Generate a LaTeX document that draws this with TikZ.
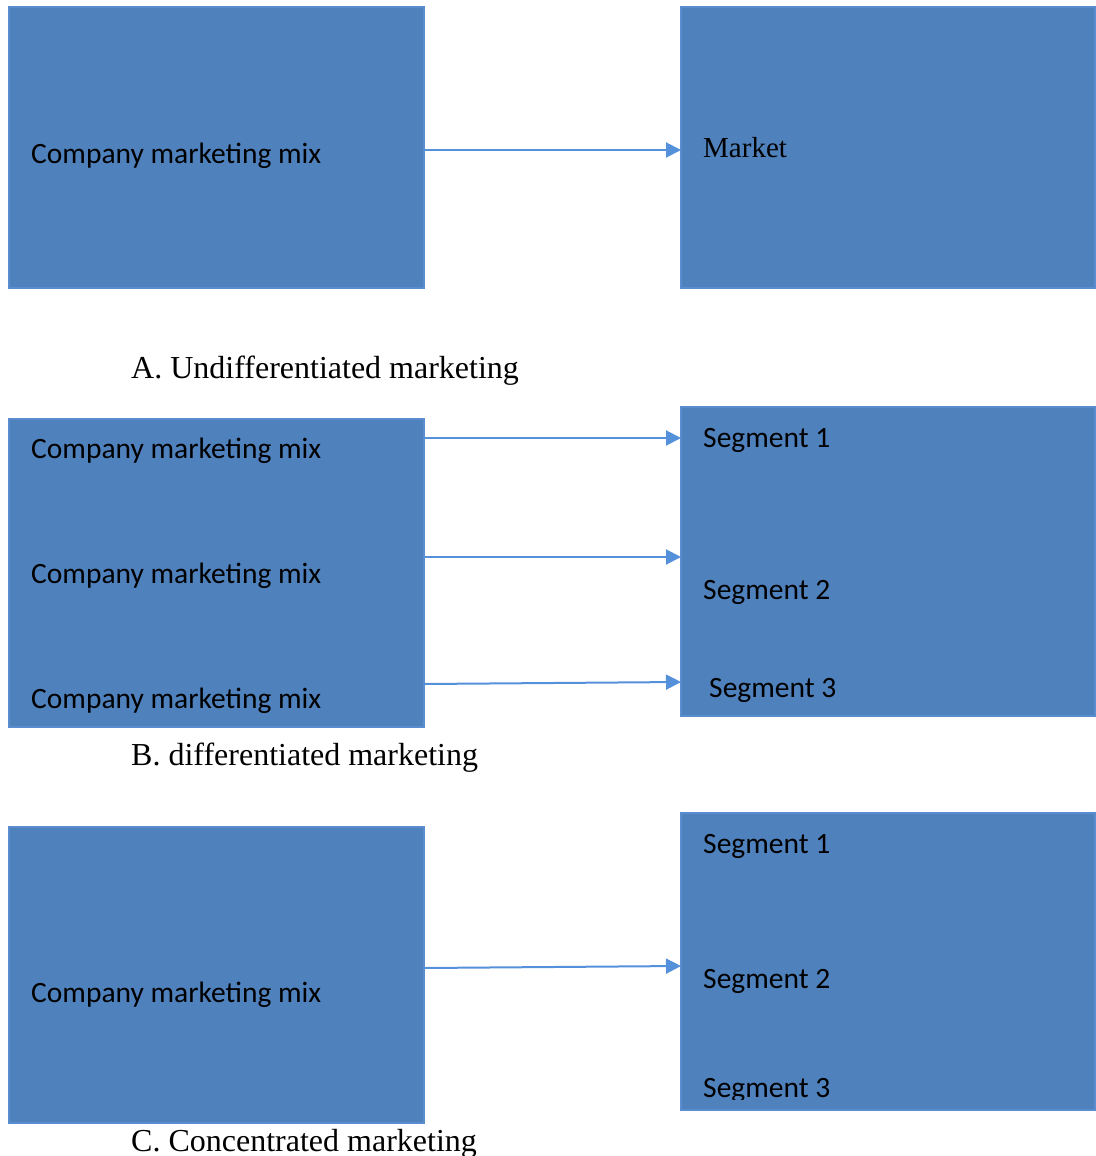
\documentclass[tikz,border=0pt]{standalone}
\usepackage{fontspec}
\setmainfont{Liberation Serif}
\newfontfamily\calfont{Carlito}
\usetikzlibrary{arrows.meta}
\definecolor{boxfill}{HTML}{4F81BD}
\definecolor{boxline}{HTML}{5A8CD0}
\definecolor{arrcol}{HTML}{5590DA}
\tikzset{
  bx/.style={draw=boxline, line width=1.5pt, fill=boxfill, inner sep=0pt, outer sep=0pt, anchor=north west},
  cal/.style={font=\calfont\fontsize{29.5}{30}\selectfont, text=black, inner sep=0pt, anchor=base west},
  ser/.style={font=\fontsize{29}{30}\selectfont, text=black, inner sep=0pt, anchor=base west},
  captxt/.style={font=\fontsize{32}{34}\selectfont, text=black, inner sep=0pt, anchor=base west},
  arr/.style={draw=arrcol, line width=2pt, -{Triangle[length=15pt,width=15pt]}, shorten >=0pt}
}
\begin{document}
\begin{tikzpicture}[x=1pt,y=-1pt]
\useasboundingbox (0,0) rectangle (1095,1156);
% ---- A
\node[bx, minimum width=415pt, minimum height=281pt] (a1) at (9,7) {};
\node[bx, minimum width=414pt, minimum height=281pt] (a2) at (681,7) {};
\node[cal] (ta1) at (31,163) {Company marketing mix};
\node[ser] (ta2) at (703,157) {Market};
\coordinate (aS) at (424,150);
\coordinate (aE) at (681,150);
\draw[arr] (aS) -- (aE);
\node[captxt] (capA) at (131,378) {A. Undifferentiated marketing};
% ---- B
\node[bx, minimum width=415pt, minimum height=308pt] (b1) at (9,419) {};
\node[bx, minimum width=414pt, minimum height=309pt] (b2) at (681,407) {};
\node[cal] (tb1) at (31,458) {Company marketing mix};
\node[cal] (tb2) at (31,583) {Company marketing mix};
\node[cal] (tb3) at (31,708) {Company marketing mix};
\node[cal] (sb1) at (703,447) {Segment 1};
\node[cal] (sb2) at (703,599) {Segment 2};
\node[cal] (sb3) at (709,697) {Segment 3};
\coordinate (b1S) at (424,438);
\coordinate (b1E) at (681,438);
\coordinate (b2S) at (424,557);
\coordinate (b2E) at (681,557);
\coordinate (b3S) at (424,684);
\coordinate (b3E) at (681,682);
\draw[arr] (b1S) -- (b1E);
\draw[arr] (b2S) -- (b2E);
\draw[arr] (b3S) -- (b3E);
\node[captxt] (capB) at (131,765) {B. differentiated marketing};
% ---- C
\node[bx, minimum width=415pt, minimum height=296pt] (c1) at (9,827) {};
\node[bx, minimum width=414pt, minimum height=297pt] (c2) at (681,813) {};
\node[cal] (tc1) at (31,1002) {Company marketing mix};
\node[cal] (sc1) at (703,853) {Segment 1};
\node[cal] (sc2) at (703,988) {Segment 2};
\begin{scope}
\clip (681,1050) rectangle (1095,1099);
\node[cal] (sc3) at (703,1097) {Segment 3};
\end{scope}
\coordinate (cS) at (424,968);
\coordinate (cE) at (681,966);
\draw[arr] (cS) -- (cE);
\node[captxt] (capC) at (131,1151) {C. Concentrated marketing};
\end{tikzpicture}
\end{document}
